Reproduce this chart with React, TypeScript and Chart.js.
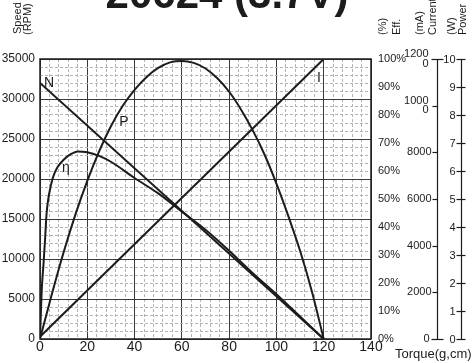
import React, { useEffect, useRef } from 'react';
import { Chart, registerables } from 'chart.js';

Chart.register(...registerables);

const FONT = '"Liberation Sans", Arial, Helvetica, sans-serif';
const TITLE = '20624 (3.7V)';

// Straight characteristics: speed N (RPM) and current I (mA) vs torque (g.cm)
const lineTorque = [0, 120];
const speedRPM = [32000, 0];
const currentMA = [100, 12000];

// Efficiency (%) vs torque
const effTorque = [0, 0.7, 1.5, 2.1, 2.8, 3.5, 4.5, 5.6, 7.5, 10, 13, 16, 20, 25, 30, 40, 50, 60, 70, 80, 90, 100, 110, 120];
const effPct = [0, 17, 27, 35, 45, 50, 54.5, 58, 61.5, 64, 66, 67, 66.7, 65.4, 63.3, 57.5, 52, 45.5, 39, 31.5, 23.5, 16, 8, 0];

// Output power (W) vs torque
const powTorque = [0, 5, 10, 15, 20, 25, 30, 35, 40, 45, 50, 55, 60, 65, 70, 75, 80, 85, 90, 95, 100, 105, 110, 115, 120];
const powW = [0, 1.6, 3.1, 4.45, 5.65, 6.7, 7.6, 8.33, 8.9, 9.35, 9.68, 9.88, 9.93, 9.86, 9.66, 9.31, 8.83, 8.2, 7.45, 6.58, 5.55, 4.4, 3.15, 1.7, 0];

// Axis ticks
const effTickValues = [0, 10, 20, 30, 40, 50, 60, 70, 80, 90, 100];
const effTickLabels = ['0%', '10%', '20%', '30%', '40%', '50%', '60%', '70%', '80%', '90%', '100%'];
const curTickValues = [0, 2000, 4000, 6000, 8000, 10000, 12000];
const curTickLabels = ['0', '2000', '4000', '6000', '8000', '1000\n0', '1200\n0'];
const powTickValues = [0, 1, 2, 3, 4, 5, 6, 7, 8, 9, 10];

// Curve name labels (torque, speed-axis value)
const curveLabels = ['N', 'P', 'η', 'I'];
const curveLabelTorque = [3.8, 35.5, 11, 118];
const curveLabelSpeed = [32000, 27100, 21400, 32600];

const INK = '#1c1c1c';

const zip = (xs: number[], ys: number[]) => xs.map((x, i) => ({ x, y: ys[i] }));

const decor = {
  id: 'decor',
  beforeDatasetsDraw(chart: any) {
    const { ctx, chartArea: a } = chart;
    ctx.save();
    ctx.strokeStyle = INK;
    ctx.lineWidth = 1.5;
    ctx.strokeRect(a.left, a.top, a.right - a.left, a.bottom - a.top);
    ctx.restore();
  },
  afterDraw(chart: any) {
    const { ctx } = chart;
    const sY = chart.scales.y;
    const sX = chart.scales.x;
    const sEff = chart.scales.yEff;
    const sCur = chart.scales.yCur;
    const sPow = chart.scales.yPow;
    ctx.save();
    ctx.fillStyle = INK;
    ctx.strokeStyle = INK;

    // Title (mostly cut off at top)
    ctx.font = `bold 42px ${FONT}`;
    ctx.textAlign = 'center';
    ctx.textBaseline = 'alphabetic';
    ctx.fillText(TITLE, 227, 7.5);

    // Rotated axis titles
    const vt = (s: string, cx: number, yb: number) => {
      ctx.save();
      ctx.translate(cx, yb);
      ctx.rotate(-Math.PI / 2);
      ctx.font = `11px ${FONT}`;
      ctx.textAlign = 'left';
      ctx.textBaseline = 'middle';
      ctx.fillText(s, 0, 0);
      ctx.restore();
    };
    vt('Speed', 17.5, 34);
    vt('(RPM)', 28, 35);
    vt('(%)', 383, 35);
    vt('Eff.', 397, 35);
    vt('(mA)', 420, 35);
    vt('Current', 433, 35);
    vt('(W)', 452, 35);
    vt('Power', 463, 35);

    // Efficiency labels
    ctx.font = `11px ${FONT}`;
    ctx.textAlign = 'left';
    ctx.textBaseline = 'middle';
    effTickValues.forEach((v, i) => {
      ctx.fillText(effTickLabels[i], 378, sEff.getPixelForValue(v));
    });

    // Current axis
    const cx = 437.5;
    ctx.lineWidth = 1.2;
    ctx.beginPath();
    ctx.moveTo(cx, sCur.getPixelForValue(curTickValues[curTickValues.length - 1]));
    ctx.lineTo(cx, sCur.getPixelForValue(curTickValues[0]));
    ctx.stroke();
    ctx.textAlign = 'right';
    curTickValues.forEach((v, i) => {
      const py = sCur.getPixelForValue(v);
      const isEnd = i === 0 || i === curTickValues.length - 1;
      ctx.beginPath();
      ctx.moveTo(isEnd ? cx - 6 : cx - 5, Math.round(py) + 0.5);
      ctx.lineTo(isEnd ? cx + 6 : cx, Math.round(py) + 0.5);
      ctx.stroke();
      const lines = curTickLabels[i].split('\n');
      const lh = 9.5;
      const x0 = isEnd ? cx - 8 : cx - 6;
      lines.forEach((ln, k) => {
        ctx.fillText(ln, lines.length > 1 ? cx - 9 : x0, py + (k - (lines.length - 1) / 2) * lh);
      });
    });

    // Power axis
    const px = 461.5;
    ctx.beginPath();
    ctx.moveTo(px, sPow.getPixelForValue(10));
    ctx.lineTo(px, sPow.getPixelForValue(0));
    ctx.stroke();
    powTickValues.forEach((v) => {
      const py = Math.round(sPow.getPixelForValue(v)) + 0.5;
      ctx.beginPath();
      ctx.moveTo(px - 5, py);
      ctx.lineTo(px + 4, py);
      ctx.stroke();
      ctx.fillText(String(v), px - 6, py);
    });

    // Curve name labels
    ctx.font = `14px ${FONT}`;
    ctx.textAlign = 'center';
    ctx.textBaseline = 'middle';
    curveLabels.forEach((s, i) => {
      ctx.fillText(s, sX.getPixelForValue(curveLabelTorque[i]), sY.getPixelForValue(curveLabelSpeed[i]));
    });

    // Torque axis title
    ctx.font = `13px ${FONT}`;
    ctx.textAlign = 'left';
    ctx.textBaseline = 'alphabetic';
    ctx.fillText('Torque(g,cm)', 395, 358);

    ctx.restore();
  },
};

export default function App() {
  const ref = useRef<HTMLCanvasElement | null>(null);
  useEffect(() => {
    if (!ref.current) return;
    const line = {
      borderColor: INK,
      borderWidth: 2,
      pointRadius: 0,
      fill: false,
    };
    const chart = new Chart(ref.current, {
      type: 'line',
      data: {
        datasets: [
          { ...line, label: 'N', data: zip(lineTorque, speedRPM), yAxisID: 'y' },
          { ...line, label: 'I', data: zip(lineTorque, currentMA), yAxisID: 'yCur' },
          { ...line, label: 'η', data: zip(effTorque, effPct), yAxisID: 'yEff', cubicInterpolationMode: 'monotone' },
          { ...line, label: 'P', data: zip(powTorque, powW), yAxisID: 'yPow', cubicInterpolationMode: 'monotone' },
        ],
      },
      options: {
        animation: false,
        responsive: false,
        devicePixelRatio: 1,
        layout: { padding: { left: 0, right: 101, top: 59, bottom: 0 } },
        plugins: { legend: { display: false }, tooltip: { enabled: false }, title: { display: false } },
        scales: {
          x: {
            type: 'linear',
            min: 0,
            max: 140,
            afterFit: (s: any) => { s.height = 24; },
            ticks: {
              stepSize: 4,
              autoSkip: false,
              maxRotation: 0,
              padding: 0,
              color: INK,
              font: { family: FONT, size: 14 },
              callback: (v: any) => (Number(v) % 20 === 0 ? String(v) : ''),
            },
            grid: {
              drawTicks: false,
              lineWidth: 1,
              color: (c: any) => (c.tick && c.tick.value % 20 === 0 ? '#3a3a3a' : '#b4b4b4'),
            },
            border: {
              display: false,
              dash: (c: any) => (c.tick && c.tick.value % 20 !== 0 ? [3, 2] : []),
            },
          },
          y: {
            type: 'linear',
            position: 'left',
            min: 0,
            max: 35000,
            afterFit: (s: any) => { s.width = 40; },
            ticks: {
              stepSize: 1000,
              autoSkip: false,
              padding: 5,
              color: INK,
              font: { family: FONT, size: 12 },
              callback: (v: any) => (Number(v) % 5000 === 0 ? String(v) : ''),
            },
            grid: {
              drawTicks: false,
              lineWidth: 1,
              color: (c: any) => (c.tick && c.tick.value % 5000 === 0 ? '#3a3a3a' : '#b4b4b4'),
            },
            border: {
              display: false,
              dash: (c: any) => (c.tick && c.tick.value % 5000 !== 0 ? [3, 2] : []),
            },
          },
          yEff: { type: 'linear', position: 'right', min: 0, max: 100, display: false },
          yCur: { type: 'linear', position: 'right', min: 0, max: 12000, display: false },
          yPow: { type: 'linear', position: 'right', min: 0, max: 10, display: false },
        },
      },
      plugins: [decor],
    } as any);
    return () => chart.destroy();
  }, []);
  return (
    <div style={{ position: 'fixed', left: 0, top: 0, width: 472, height: 363, background: '#fff' }}>
      <canvas ref={ref} width={472} height={363} style={{ width: 472, height: 363, display: 'block' }} />
    </div>
  );
}
